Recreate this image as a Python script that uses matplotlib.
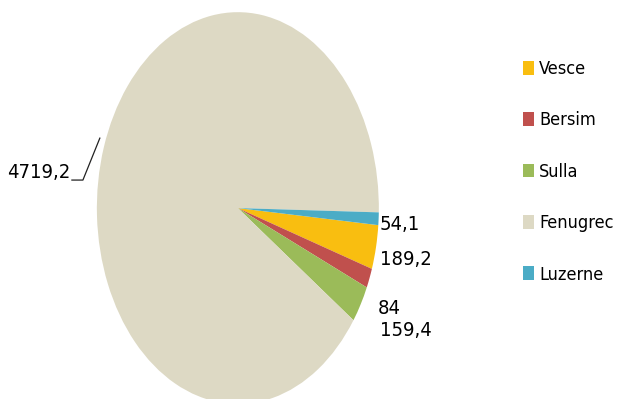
import matplotlib
matplotlib.use("Agg")
import matplotlib.pyplot as plt
from matplotlib.patches import Patch

plt.rcParams['font.family'] = ['DejaVu Sans']
plt.rcParams['font.stretch'] = 'condensed'

# data (Excel order, drawn clockwise)
categories = ["Vesce", "Bersim", "Sulla", "Fenugrec", "Luzerne"]
values = [189.2, 84, 159.4, 4719.2, 54.1]
value_labels = ["189,2", "84", "159,4", "4719,2", "54,1"]
colors = ["#F9BE10", "#C0504D", "#9BBB59", "#DDD9C4", "#4BACC6"]

# label positions (axes data coords, pie radius = 1)
label_pos = [(1.007, -0.265, 'left'), (0.993, -0.515, 'left'), (1.007, -0.625, 'left'),
             (-1.19, 0.184, 'right'), (1.007, -0.082, 'left')]

fig = plt.figure(figsize=(6.17, 3.99), dpi=100)
ax = fig.add_axes([0.157, -0.0125, 0.457, 0.982])

wedges, _ = ax.pie(values, colors=colors, startangle=-5, counterclock=False,
                   wedgeprops=dict(linewidth=0))
ax.set_aspect('auto')
ax.set_xlim(-1, 1)
ax.set_ylim(-1, 1)
ax.axis('off')

for txt, (x, y, ha) in zip(value_labels, label_pos):
    ax.text(x, y, txt, ha=ha, va='center', fontsize=14.5, color='black',
            fontstretch='condensed')

# leader line for the big slice
ax.plot([-1.177, -1.099, -0.979], [0.143, 0.143, 0.357], color='#222222',
        lw=0.9, clip_on=False)

handles = [Patch(facecolor=c, edgecolor='none') for c in colors]
fig.legend(handles, categories, loc='upper left', bbox_to_anchor=(523 / 617, 1 - 60 / 399),
           frameon=False, prop=dict(size=13, stretch='condensed'),
           handlelength=0.6, handleheight=0.8,
           handletextpad=0.3, labelspacing=1.85, borderpad=0, borderaxespad=0)

fig.savefig("out.png", dpi=100)
